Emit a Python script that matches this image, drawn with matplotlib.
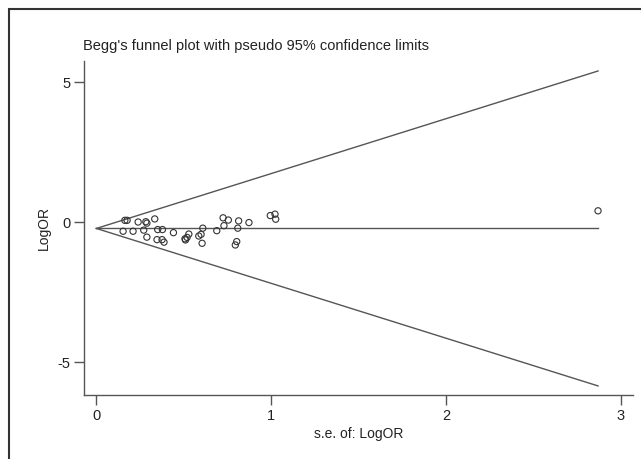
import matplotlib
matplotlib.use("Agg")
import matplotlib.pyplot as plt
import numpy as np
from matplotlib.patches import Rectangle

plt.rcParams['font.family'] = ['Liberation Sans', 'DejaVu Sans']
plt.rcParams['axes.unicode_minus'] = False

# standard error and log odds ratio of each study
se = [0.163, 0.176, 0.239, 0.283, 0.289, 0.334, 0.153, 0.210, 0.271, 0.289,
      0.351, 0.378, 0.347, 0.376, 0.387, 0.441, 0.507, 0.519, 0.529, 0.510,
      0.586, 0.599, 0.609, 0.605, 0.689, 0.725, 0.755, 0.730, 0.814, 0.809,
      0.803, 0.795, 0.873, 0.995, 1.022, 1.026, 2.870]
log_or = [0.07, 0.07, 0.01, 0.02, -0.03, 0.12, -0.32, -0.32, -0.28, -0.53,
          -0.26, -0.26, -0.62, -0.62, -0.71, -0.37, -0.59, -0.54, -0.42, -0.63,
          -0.49, -0.43, -0.21, -0.75, -0.30, 0.16, 0.08, -0.12, 0.05, -0.21,
          -0.69, -0.81, -0.01, 0.24, 0.29, 0.11, 0.41]
pooled = -0.22
x_ticks = [0, 1, 2, 3]
y_ticks = [-5, 0, 5]

gray = "#555555"

fig = plt.figure(figsize=(6.41, 4.59), dpi=100)
ax = fig.add_axes([0.1315, 0.1394, 0.856, 0.7276])

# pseudo 95% confidence limits
se_line = np.array([0, max(se)])
ax.plot(se_line, pooled + 1.96 * se_line, color=gray, lw=1)
ax.plot(se_line, pooled - 1.96 * se_line, color=gray, lw=1)
ax.plot(se_line, [pooled, pooled], color=gray, lw=1)

ax.scatter(se, log_or, s=20, facecolors="none", edgecolors="#333333", linewidths=0.8, zorder=3)

ax.set_xlim(-0.069, 3.07)
ax.set_ylim(-6.17, 5.76)
ax.set_xticks(x_ticks)
ax.set_yticks(y_ticks)
ax.tick_params(direction="out", length=7, width=1, color=gray, labelsize=10.5,
               labelcolor="#222222", pad=3)
for s in ["top", "right"]:
    ax.spines[s].set_visible(False)
for s in ["left", "bottom"]:
    ax.spines[s].set_color(gray)
    ax.spines[s].set_linewidth(1)

ax.set_xlabel("s.e. of: LogOR", fontsize=10, color="#222222", labelpad=3)
ax.set_ylabel("LogOR", fontsize=10, color="#222222", labelpad=5)
fig.text(0.1295, 0.899, "Begg's funnel plot with pseudo 95% confidence limits",
         fontsize=10.5, color="#222222", ha="left", va="center")

# outer frame (cropped at right and bottom)
fig.patches.append(Rectangle((9 / 641, -0.1), 1.2, 1 - 9 / 459 + 0.1,
                             transform=fig.transFigure, fill=False,
                             edgecolor="#333333", lw=1.5))

fig.savefig("out.png", dpi=100)
